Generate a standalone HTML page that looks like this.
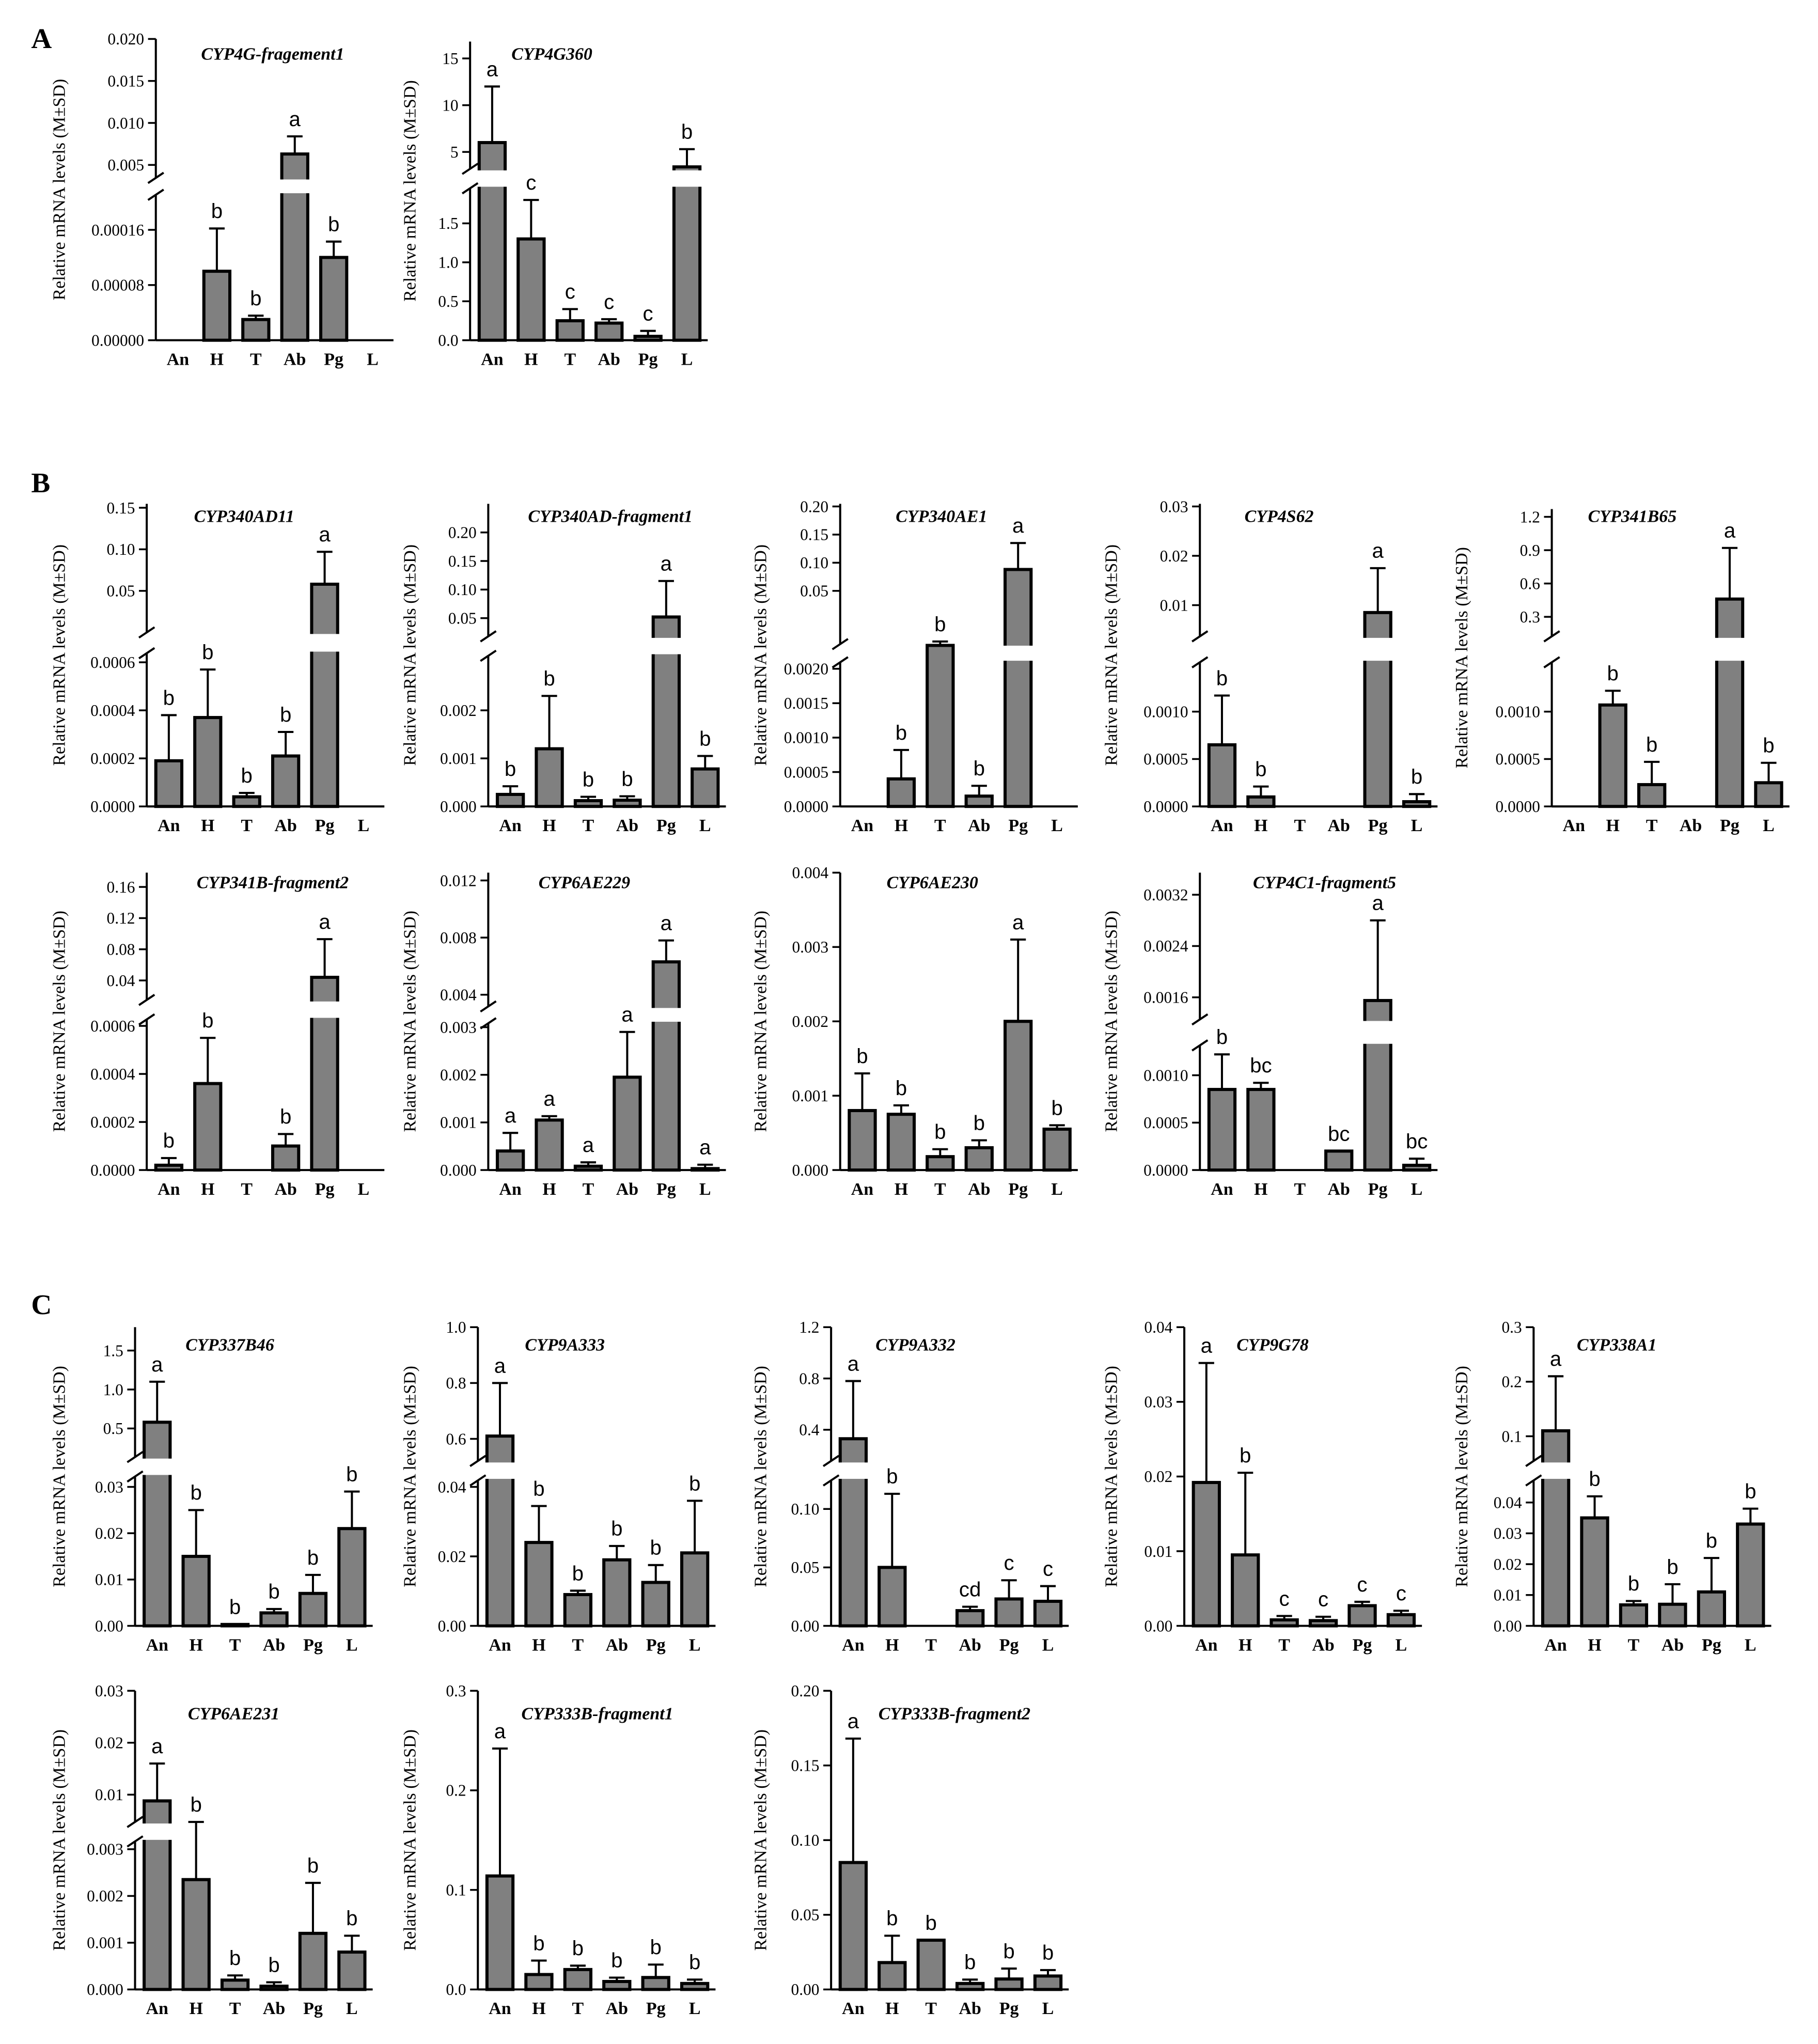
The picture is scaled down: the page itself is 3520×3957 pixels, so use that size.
<!DOCTYPE html>
<html><head><meta charset="utf-8"><style>
html,body{margin:0;padding:0;background:#fff;}
svg{display:block;}
text{font-family:"Liberation Serif",serif;}
</style></head><body>
<svg id="fig" width="3520" height="3957" viewBox="0 0 1400 1574" preserveAspectRatio="none" xmlns="http://www.w3.org/2000/svg">
<rect width="1400" height="1574" fill="#fff"/>
<text x="24" y="37" font-size="22" font-weight="bold">A</text>
<text x="24" y="379" font-size="22" font-weight="bold">B</text>
<text x="24" y="1012" font-size="22" font-weight="bold">C</text>
</svg>
<script>
const categories=['An','H','T','Ab','Pg','L'];
// Means, mean+SD tops, significance letters
const a1Mean=[0,0.0001,0.00003,0.0063,0.00012,0], a1Err=[0,0.000162,0.000034,0.0084,0.000143,0], a1Sig=['','b','b','a','b',''];
const a2Mean=[6,1.3,0.25,0.22,0.05,3.4], a2Err=[12,1.8,0.4,0.27,0.12,5.3], a2Sig=['a','c','c','c','c','b'];
const b1Mean=[0.00019,0.00037,0.00004,0.00021,0.058,0], b1Err=[0.00038,0.00057,0.00005,0.00031,0.097,0], b1Sig=['b','b','b','b','a',''];
const b2Mean=[0.00025,0.0012,0.00012,0.00013,0.052,0.00078], b2Err=[0.00042,0.0023,0.00013,0.0002,0.115,0.00105], b2Sig=['b','b','b','b','a','b'];
const b3Mean=[0,0.0004,0.0021,0.00015,0.088,0], b3Err=[0,0.00082,0.0022,0.0003,0.135,0], b3Sig=['','b','b','b','a',''];
const b4Mean=[0.00065,0.0001,0,0,0.0085,0.00005], b4Err=[0.00117,0.00021,0,0,0.0175,0.00013], b4Sig=['b','b','','','a','b'];
const b5Mean=[0,0.00107,0.00023,0,0.46,0.00025], b5Err=[0,0.00122,0.00047,0,0.92,0.00046], b5Sig=['','b','b','','a','b'];
const b6Mean=[0.00002,0.00036,0,0.0001,0.044,0], b6Err=[0.00005,0.00055,0,0.00015,0.093,0], b6Sig=['b','b','','b','a',''];
const b7Mean=[0.0004,0.00105,0.00008,0.00195,0.0063,0.00003], b7Err=[0.00078,0.0011,0.00009,0.0029,0.0078,0.00004], b7Sig=['a','a','a','a','a','a'];
const b8Mean=[0.0008,0.00075,0.00018,0.0003,0.002,0.00055], b8Err=[0.0013,0.00087,0.00028,0.0004,0.0031,0.00058], b8Sig=['b','b','b','b','a','b'];
const b9Mean=[0.00085,0.00085,0,0.0002,0.00155,0.00005], b9Err=[0.00122,0.00092,0,0.0002,0.0028,0.00012], b9Sig=['b','bc','','bc','a','bc'];
const c1Mean=[0.58,0.015,0.0003,0.0028,0.007,0.021], c1Err=[1.1,0.025,0.0003,0.003,0.011,0.029], c1Sig=['a','b','b','b','b','b'];
const c2Mean=[0.61,0.024,0.009,0.019,0.0125,0.021], c2Err=[0.8,0.0345,0.0095,0.023,0.0175,0.036], c2Sig=['a','b','b','b','b','b'];
const c3Mean=[0.33,0.05,0,0.013,0.023,0.021], c3Err=[0.78,0.113,0,0.016,0.039,0.034], c3Sig=['a','b','','cd','c','c'];
const c4Mean=[0.0192,0.0095,0.0008,0.0007,0.0027,0.0015], c4Err=[0.0352,0.0205,0.0011,0.001,0.0031,0.0018], c4Sig=['a','b','c','c','c','c'];
const c5Mean=[0.11,0.035,0.0068,0.007,0.011,0.033], c5Err=[0.21,0.042,0.0072,0.0135,0.022,0.038], c5Sig=['a','b','b','b','b','b'];
const c6Mean=[0.0088,0.00235,0.0002,0.00007,0.0012,0.0008], c6Err=[0.016,0.0032,0.0003,0.0001,0.00228,0.00115], c6Sig=['a','b','b','b','b','b'];
const c7Mean=[0.114,0.015,0.02,0.008,0.012,0.006], c7Err=[0.242,0.029,0.023,0.009,0.025,0.009], c7Sig=['a','b','b','b','b','b'];
const c8Mean=[0.085,0.018,0.033,0.004,0.007,0.009], c8Err=[0.168,0.036,0.033,0.0045,0.014,0.013], c8Sig=['a','b','b','b','b','b'];

const panels=[
 {t:'CYP4G-fragement1',m:a1Mean,e:a1Err,s:a1Sig,ax:120,base:262,top:30,lo:[0,262,0.00016,177],ltk:['0.00000','0.00008','0.00016'],up:[0.005,127,0.020,30],utk:['0.005','0.010','0.015','0.020'],bt:137,bb:150,lab:50,tx:210,ty:46},
 {t:'CYP4G360',m:a2Mean,e:a2Err,s:a2Sig,ax:362,base:262,top:32,lo:[0,262,1.5,172],ltk:['0.0','0.5','1.0','1.5'],up:[5,117,15,45],utk:['5','10','15'],bt:130,bb:145,lab:320,tx:425,ty:46},
 {t:'CYP340AD11',m:b1Mean,e:b1Err,s:b1Sig,ax:113,base:621,top:388,lo:[0,621,0.0006,510],ltk:['0.0000','0.0002','0.0004','0.0006'],up:[0.05,455,0.15,391],utk:['0.05','0.10','0.15'],bt:487,bb:503,lab:50,tx:188,ty:402},
 {t:'CYP340AD-fragment1',m:b2Mean,e:b2Err,s:b2Sig,ax:376,base:621,top:388,lo:[0,621,0.002,547],ltk:['0.000','0.001','0.002'],up:[0.05,476,0.20,410],utk:['0.05','0.10','0.15','0.20'],bt:490,bb:505,lab:320,tx:470,ty:402},
 {t:'CYP340AE1',m:b3Mean,e:b3Err,s:b3Sig,ax:647,base:621,top:388,lo:[0,621,0.002,515],ltk:['0.0000','0.0005','0.0010','0.0015','0.0020'],up:[0.05,455,0.20,390],utk:['0.05','0.10','0.15','0.20'],bt:496,bb:510,gapMax:0.01,lab:590,tx:725,ty:402},
 {t:'CYP4S62',m:b4Mean,e:b4Err,s:b4Sig,ax:924,base:621,top:388,lo:[0,621,0.001,548],ltk:['0.0000','0.0005','0.0010'],up:[0.01,466,0.03,390],utk:['0.01','0.02','0.03'],bt:490,bb:510,lab:860,tx:985,ty:402},
 {t:'CYP341B65',m:b5Mean,e:b5Err,s:b5Sig,ax:1195,base:621,top:392,lo:[0,621,0.001,548],ltk:['0.0000','0.0005','0.0010'],up:[0.3,475,1.2,398],utk:['0.3','0.6','0.9','1.2'],bt:490,bb:510,lab:1130,tx:1257,ty:402},
 {t:'CYP341B-fragment2',m:b6Mean,e:b6Err,s:b6Sig,ax:113,base:901,top:672,lo:[0,901,0.0006,790],ltk:['0.0000','0.0002','0.0004','0.0006'],up:[0.04,755,0.16,683],utk:['0.04','0.08','0.12','0.16'],bt:770,bb:785,lab:50,tx:210,ty:684},
 {t:'CYP6AE229',m:b7Mean,e:b7Err,s:b7Sig,ax:376,base:901,top:672,lo:[0,901,0.003,791],ltk:['0.000','0.001','0.002','0.003'],up:[0.004,766,0.012,678],utk:['0.004','0.008','0.012'],bt:775,bb:788,lab:320,tx:450,ty:684},
 {t:'CYP6AE230',m:b8Mean,e:b8Err,s:b8Sig,ax:647,base:901,top:672,lo:[0,901,0.004,672],ltk:['0.000','0.001','0.002','0.003','0.004'],lab:590,tx:718,ty:684},
 {t:'CYP4C1-fragment5',m:b9Mean,e:b9Err,s:b9Sig,ax:924,base:901,top:672,lo:[0,901,0.001,828],ltk:['0.0000','0.0005','0.0010'],up:[0.0016,768,0.0032,689],utk:['0.0016','0.0024','0.0032'],bt:785,bb:805,lab:860,tx:1020,ty:684},
 {t:'CYP337B46',m:c1Mean,e:c1Err,s:c1Sig,ax:104,base:1252,top:1022,lo:[0,1252,0.03,1145],ltk:['0.00','0.01','0.02','0.03'],up:[0.5,1100,1.5,1040],utk:['0.5','1.0','1.5'],bt:1122,bb:1137,lab:50,tx:177,ty:1040},
 {t:'CYP9A333',m:c2Mean,e:c2Err,s:c2Sig,ax:368,base:1252,top:1022,lo:[0,1252,0.04,1145],ltk:['0.00','0.02','0.04'],up:[0.6,1108,1.0,1022],utk:['0.6','0.8','1.0'],bt:1125,bb:1140,lab:320,tx:435,ty:1040},
 {t:'CYP9A332',m:c3Mean,e:c3Err,s:c3Sig,ax:640,base:1252,top:1022,lo:[0,1252,0.10,1162],ltk:['0.00','0.05','0.10'],up:[0.4,1101,1.2,1022],utk:['0.4','0.8','1.2'],bt:1125,bb:1140,lab:590,tx:705,ty:1040},
 {t:'CYP9G78',m:c4Mean,e:c4Err,s:c4Sig,ax:912,base:1252,top:1022,lo:[0,1252,0.04,1022],ltk:['0.00','0.01','0.02','0.03','0.04'],lab:860,tx:980,ty:1040},
 {t:'CYP338A1',m:c5Mean,e:c5Err,s:c5Sig,ax:1181,base:1252,top:1022,lo:[0,1252,0.04,1157],ltk:['0.00','0.01','0.02','0.03','0.04'],up:[0.1,1106,0.3,1022],utk:['0.1','0.2','0.3'],bt:1125,bb:1140,lab:1130,tx:1245,ty:1040},
 {t:'CYP6AE231',m:c6Mean,e:c6Err,s:c6Sig,ax:104,base:1532,top:1302,lo:[0,1532,0.003,1424],ltk:['0.000','0.001','0.002','0.003'],up:[0.01,1382,0.03,1302],utk:['0.01','0.02','0.03'],bt:1403,bb:1418,lab:50,tx:180,ty:1324},
 {t:'CYP333B-fragment1',m:c7Mean,e:c7Err,s:c7Sig,ax:368,base:1532,top:1302,lo:[0,1532,0.3,1302],ltk:['0.0','0.1','0.2','0.3'],lab:320,tx:460,ty:1324},
 {t:'CYP333B-fragment2',m:c8Mean,e:c8Err,s:c8Sig,ax:640,base:1532,top:1302,lo:[0,1532,0.2,1302],ltk:['0.00','0.05','0.10','0.15','0.20'],lab:590,tx:735,ty:1324}
];
const NS='http://www.w3.org/2000/svg';
const svg=document.getElementById('fig');
function mk(tag,attrs,parent){const el=document.createElementNS(NS,tag);for(const k in attrs)el.setAttribute(k,attrs[k]);(parent||svg).appendChild(el);return el;}
function lin(s,v){return s[1]+(v-s[0])*(s[3]-s[1])/(s[2]-s[0]);}
function Y(p,v){const yl=lin(p.lo,v);if(!p.up||yl>=p.bb)return yl;if(p.gapMax&&v<=p.gapMax)return p.bt+1;return Math.min(lin(p.up,v),p.bt);}
panels.forEach((p,pi)=>{
  const g=mk('g',{});
  
  
  const xEnd=p.ax+17+150+16;
  p.m.forEach((v,i)=>{
    const cx=p.ax+17+30*i;
    const yt=Y(p,v);
    if(p.base-yt>0.3){
      const r=mk('rect',{x:cx-10,y:yt,width:20,height:p.base-yt,fill:'#808080',stroke:'#000','stroke-width':2.4},g);
      
      
      if(p.up&&yt<p.bt) mk('rect',{x:cx-13,y:p.bt+1.2,width:26,height:p.bb-p.bt-2.4,fill:'#fff'},g);
    }
    const ye=Math.min(Y(p,p.e[i]),yt-(p.e[i]>v?3:0));
    if(yt-ye>0.5){
      const el=mk('path',{d:`M${cx} ${yt} V${ye} M${cx-6} ${ye} H${cx+6}`,stroke:'#000','stroke-width':1.6,fill:'none'},g);
      
      
    }
    if(p.s[i]){
      const t=mk('text',{x:cx,y:Math.min(ye,yt)-8,'text-anchor':'middle','font-size':16,style:'font-family:"Liberation Sans",sans-serif'},g);
      t.textContent=p.s[i];
      
      
    }
    const xl=mk('text',{x:cx,y:p.base+19,'text-anchor':'middle','font-size':13.5,'font-weight':'bold'},g);
    xl.textContent=categories[i];
    
    
  });
  const xa=mk('line',{x1:p.ax,y1:p.base,x2:xEnd,y2:p.base,stroke:'#000','stroke-width':1.6},g);
  
  
  const ya=mk('path',{d:p.up?`M${p.ax} ${p.base} V${p.bb} M${p.ax} ${p.bt} V${p.top}`:`M${p.ax} ${p.base} V${p.top}`,stroke:'#000','stroke-width':1.6,fill:'none'},g);
  
  
  if(p.up){
    const bm=mk('path',{d:`M${p.ax-6} ${p.bt+4} L${p.ax+6} ${p.bt-4} M${p.ax-6} ${p.bb+4} L${p.ax+6} ${p.bb-4}`,stroke:'#000','stroke-width':1.6},g);
    
    
  }
  const tk=(lbl,y)=>{
    mk('line',{x1:p.ax-6,y1:y,x2:p.ax,y2:y,stroke:'#000','stroke-width':1.4},g);
    const t=mk('text',{x:p.ax-9,y:y+4.3,'text-anchor':'end','font-size':12.5},g);
    t.textContent=lbl;
    
    
  };
  p.ltk.forEach(l=>tk(l,lin(p.lo,parseFloat(l))));
  if(p.up)p.utk.forEach(l=>tk(l,lin(p.up,parseFloat(l))));
  const my=(p.top+p.base)/2;
  const yl=mk('text',{x:p.lab,y:my,'text-anchor':'middle','font-size':13.5,transform:`rotate(-90 ${p.lab} ${my})`},g);
  yl.textContent='Relative mRNA levels (M±SD)';
  
  
  const tt=mk('text',{x:p.tx,y:p.ty,'text-anchor':'middle','font-size':13.5,'font-weight':'bold','font-style':'italic'},g);
  tt.textContent=p.t;
  
  
});
</script>
</body></html>
